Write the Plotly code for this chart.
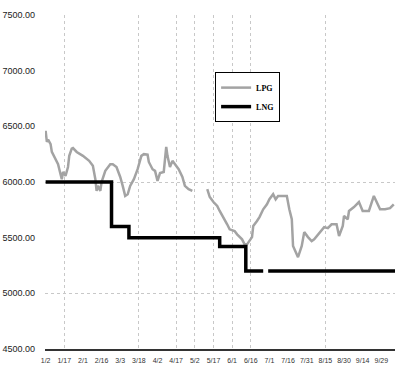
import plotly.graph_objects as go

# LPG price series (grey)
lpg_dates = ["2011-01-02","2011-01-03","2011-01-04","2011-01-06","2011-01-07","2011-01-09","2011-01-12",
             "2011-01-14","2011-01-15","2011-01-16","2011-01-18","2011-01-20","2011-01-21","2011-01-23",
             "2011-01-24","2011-01-27","2011-02-01","2011-02-06","2011-02-09","2011-02-11","2011-02-12",
             "2011-02-13","2011-02-15","2011-02-16","2011-02-19","2011-02-23","2011-02-25","2011-02-28",
             "2011-03-03","2011-03-05","2011-03-07","2011-03-09","2011-03-11","2011-03-14","2011-03-17",
             "2011-03-20","2011-03-22","2011-03-25","2011-03-26","2011-03-29","2011-03-31","2011-04-02",
             "2011-04-04","2011-04-07","2011-04-09","2011-04-10","2011-04-12","2011-04-14","2011-04-16",
             "2011-04-19","2011-04-22","2011-04-24","2011-04-27","2011-04-30","2011-05-06",
             "2011-05-12","2011-05-14","2011-05-17","2011-05-20","2011-05-22","2011-05-25","2011-05-28",
             "2011-05-30","2011-06-03","2011-06-05","2011-06-09","2011-06-11","2011-06-13","2011-06-17",
             "2011-06-18","2011-06-21","2011-06-23","2011-06-26","2011-06-29","2011-07-01","2011-07-04",
             "2011-07-06","2011-07-08","2011-07-11","2011-07-15","2011-07-17","2011-07-19","2011-07-20",
             "2011-07-22","2011-07-24","2011-07-27","2011-07-29","2011-08-01","2011-08-04","2011-08-06",
             "2011-08-09","2011-08-12","2011-08-14","2011-08-17","2011-08-20","2011-08-24","2011-08-26",
             "2011-08-29","2011-08-30","2011-09-02","2011-09-03","2011-09-07","2011-09-11","2011-09-14",
             "2011-09-19","2011-09-23","2011-09-28","2011-10-02","2011-10-06","2011-10-09"]
lpg_values = [6460,6360,6380,6340,6270,6225,6160,
              6070,6025,6090,6055,6135,6235,6300,
              6305,6270,6235,6190,6145,6025,5920,
              5965,5920,6000,6100,6160,6160,6135,
              6045,5965,5875,5890,5965,6025,6115,
              6235,6250,6245,6180,6115,6100,6010,
              6080,6090,6315,6235,6135,6190,6160,
              6115,6045,5965,5935,5920,None,
              5935,5865,5820,5785,5740,5685,5620,
              5575,5560,5530,5485,5440,5440,5505,
              5605,5650,5685,5755,5800,5845,5890,
              5845,5875,5875,5875,5755,5665,5425,
              5380,5325,5425,5550,5505,5470,5485,
              5530,5575,5595,5585,5620,5620,5515,
              5605,5695,5665,5740,5775,5820,5740,
              5740,5875,5755,5755,5765,5800]

# LNG price series (black, step)
lng_dates = ["2011-01-02","2011-02-24","2011-03-10","2011-05-22","2011-06-12","2011-06-26",
             "2011-06-27","2011-06-30","2011-10-10"]
lng_values = [6000,5600,5500,5420,5200,5200,None,5200,5200]

# axis ticks
x_tick_dates = ["2011-01-02","2011-01-17","2011-02-01","2011-02-16","2011-03-03","2011-03-18",
                "2011-04-02","2011-04-17","2011-05-02","2011-05-17","2011-06-01","2011-06-16",
                "2011-07-01","2011-07-16","2011-07-31","2011-08-15","2011-08-30","2011-09-14","2011-09-29"]
x_tick_labels = ["1/2","1/17","2/1","2/16","3/3","3/18","4/2","4/17","5/2","5/17","6/1","6/16",
                 "7/1","7/16","7/31","8/15","8/30","9/14","9/29"]
x_grid_dates = ["2011-01-17","2011-03-18","2011-04-17","2011-05-02","2011-05-17","2011-06-01",
                "2011-06-16","2011-08-15"]
y_ticks = [4500,5000,5500,6000,6500,7000,7500]
y_grid = [5000,6000]

x_range = ["2011-01-01 12:00","2011-10-10"]
y_range = [4500,7500]

fig = go.Figure()
fig.add_trace(go.Scatter(x=lpg_dates, y=lpg_values, mode="lines", name="LPG",
                         line=dict(color="#a3a3a3", width=2.5), connectgaps=False))
fig.add_trace(go.Scatter(x=lng_dates, y=lng_values, mode="lines", name="LNG",
                         line=dict(color="#000000", width=3.5, shape="hv"), connectgaps=False))
# invisible trace to anchor grid axes
fig.add_trace(go.Scatter(x=x_range, y=y_range, xaxis="x2", yaxis="y2", mode="lines",
                         line=dict(width=0), showlegend=False, hoverinfo="skip"))

fig.update_layout(
    width=400, height=374,
    margin=dict(l=45, r=5, t=15, b=25),
    paper_bgcolor="white", plot_bgcolor="white",
    showlegend=True,
    legend=dict(x=0.486, y=0.829, xanchor="left", yanchor="top",
                bgcolor="white", bordercolor="#000000", borderwidth=1,
                font=dict(family="Liberation Serif, serif", size=8, color="#000", weight="bold"),
                itemwidth=30, tracegroupgap=0),
    xaxis=dict(type="date", range=x_range, tickmode="array", tickvals=x_tick_dates,
               ticktext=x_tick_labels, showgrid=False, zeroline=False,
               showline=True, linecolor="#333333", linewidth=2, ticks="",
               tickfont=dict(family="Liberation Sans Narrow, Liberation Sans, sans-serif", size=7, color="#333"),
               ticklabelstandoff=4, automargin=False),
    yaxis=dict(range=y_range, tickmode="array", tickvals=y_ticks, tickformat=".2f",
               showgrid=False, zeroline=False, showline=False, ticks="",
               tickfont=dict(family="Liberation Sans Narrow, Liberation Sans, sans-serif", size=9, color="#222"),
               ticklabelstandoff=9, automargin=False),
    xaxis2=dict(type="date", range=x_range, overlaying="x", tickmode="array", tickvals=x_grid_dates,
                showticklabels=False, showgrid=True, gridcolor="#c8c8c8", griddash="dot", gridwidth=1,
                zeroline=False, showline=False, ticks=""),
    yaxis2=dict(range=y_range, overlaying="y", tickmode="array", tickvals=y_grid,
                showticklabels=False, showgrid=True, gridcolor="#c8c8c8", griddash="dot", gridwidth=1,
                zeroline=False, showline=False, ticks=""),
)
fig.update_layout(xaxis2_layer="below traces", yaxis2_layer="below traces")
fig.write_html("out.html", config={"displayModeBar": False},
               post_script="document.body.style.margin='0';")
